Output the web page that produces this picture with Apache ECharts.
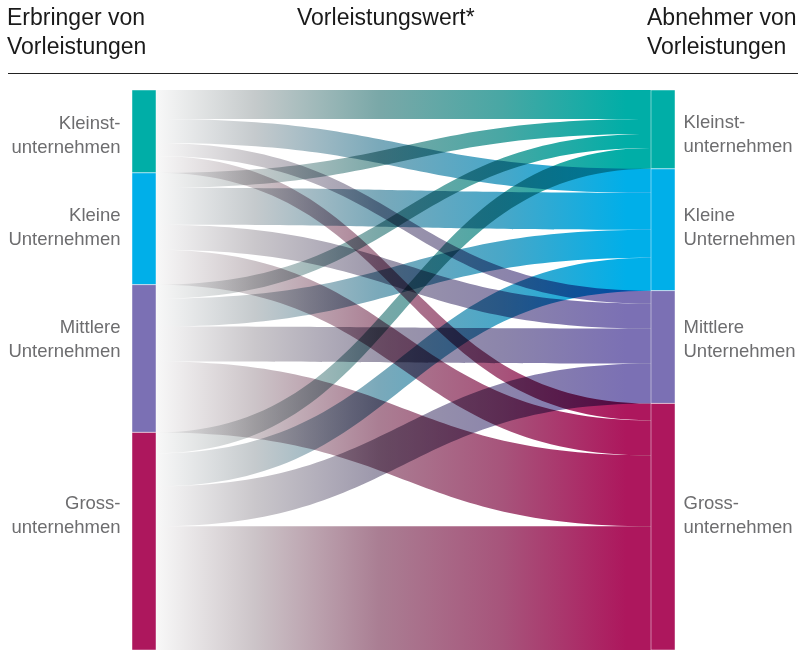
<!DOCTYPE html>
<html>
<head>
<meta charset="utf-8">
<script src="https://cdn.jsdelivr.net/npm/echarts@6/dist/echarts.min.js"></script>
<style>
html,body{margin:0;padding:0;background:#fff;}
#c{width:806px;height:664px;}
</style>
</head>
<body>
<div id="c"></div>
<script>
const categories = ['Kleinst-\nunternehmen', 'Kleine\nUnternehmen', 'Mittlere\nUnternehmen', 'Gross-\nunternehmen'];
const nodeColors = ['#00aea7', '#00afe9', '#7b70b4', '#ad175d'];
// flows[source][target]
const fromKleinst = [29, 24, 13, 17];
const fromKleine = [15, 37, 25, 35];
const fromMittlere = [14, 28, 35, 71];
const fromGross = [21, 33, 40, 124];
const flows = [fromKleinst, fromKleine, fromMittlere, fromGross];

const leftOffsets = [4.5, -1, -19, -25];
const rightOffsets = [5.5, -2, -7.5, -10.5];

function hex(c){c=c.replace('#','');return [parseInt(c.substr(0,2),16),parseInt(c.substr(2,2),16),parseInt(c.substr(4,2),16)];}
function mix(a,b,t){const A=hex(a),B=hex(b);return 'rgb('+A.map((v,i)=>Math.round(v+(B[i]-v)*t)).join(',')+')';}

const nodes = [];
categories.forEach((c,i)=>{
  nodes.push({name:'L'+i, depth:0, itemStyle:{color:nodeColors[i]},
    label:{position:'left', distance:11, align:'right', formatter:c, offset:[0,leftOffsets[i]]}});
});
categories.forEach((c,i)=>{
  nodes.push({name:'R'+i, depth:1, itemStyle:{color:nodeColors[i]},
    label:{position:'right', distance:8, align:'left', formatter:c, offset:[0,rightOffsets[i]]}});
});

const links = [];
flows.forEach((row,s)=>{
  row.forEach((v,t)=>{
    const col = nodeColors[t];
    links.push({source:'L'+s, target:'R'+t, value:v,
      lineStyle:{opacity:1, color:new echarts.graphic.LinearGradient(0,0,1,0,[
        {offset:0, color:'#f8f8f8'},
        {offset:0.2, color:mix('#cdcbcc', col, 0.04)},
        {offset:0.45, color:mix('#a9a6a8', col, 0.28)},
        {offset:0.7, color:mix('#a09ea0', col, 0.55)},
        {offset:0.95, color:col},
        {offset:1, color:col}
      ])}});
  });
});

const titleFont = '23px "Liberation Sans", Arial, sans-serif';
const chart = echarts.init(document.getElementById('c'));
chart.setOption({
  animation:false,
  backgroundColor:'#fff',
  graphic:[
    {type:'text', left:7, top:4, style:{text:'Erbringer von\nVorleistungen', font:titleFont, fill:'#1a1a1a', lineHeight:29}},
    {type:'text', left:297, top:4, style:{text:'Vorleistungswert*', font:titleFont, fill:'#1a1a1a', lineHeight:29}},
    {type:'text', left:647, top:4, style:{text:'Abnehmer von\nVorleistungen', font:titleFont, fill:'#1a1a1a', lineHeight:29}},
    {type:'line', shape:{x1:8, y1:73.5, x2:798, y2:73.5}, style:{stroke:'#222', lineWidth:1}}
  ],
  series:[{
    type:'sankey',
    left:132, right:131, top:90, bottom:14,
    nodeWidth:24, nodeGap:0, layoutIterations:0, nodeAlign:'justify',
    draggable:false,
    emphasis:{disabled:true},
    itemStyle:{borderColor:'rgba(255,255,255,0.45)', borderWidth:1},
    label:{color:'#6d6d6f', fontSize:18.5, lineHeight:24, fontFamily:'"Liberation Sans", Arial, sans-serif'},
    lineStyle:{curveness:0.5},
    data:nodes,
    links:links
  }]
});
const zr = chart.getZr();
zr.storage.getDisplayList(true).forEach(el=>{
  if (el.shape && el.shape.cpx1 !== undefined) { el.style.blend = 'multiply'; el.markRedraw(); }
});
zr.refreshImmediately();
</script>
</body>
</html>
